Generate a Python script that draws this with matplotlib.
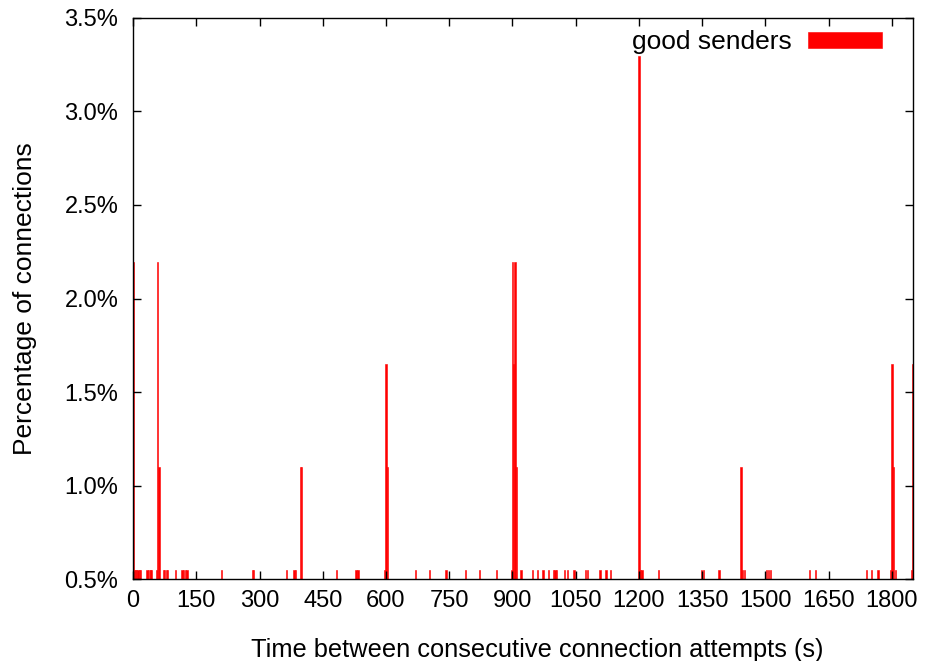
import matplotlib
matplotlib.use("Agg")
import matplotlib.pyplot as plt
import numpy as np

plt.rcParams['font.family'] = ['Liberation Sans', 'DejaVu Sans']

# seconds between attempts and how many connections fell in that second
times = [1, 3, 6, 9, 12, 15, 17, 33, 36, 41, 43, 56, 58, 62, 72, 75, 80, 82,
         101, 116, 120, 124, 128, 210, 283, 286, 364, 382, 386, 397, 400,
         482, 529, 534, 597, 600, 603, 670, 703, 742, 788, 822, 862,
         897, 900, 903, 906, 909, 920, 948, 959, 972, 985, 997, 1001, 1005,
         1023, 1031, 1046, 1073, 1078, 1108, 1122, 1133,
         1200, 1203, 1207, 1247, 1349, 1353, 1390, 1442, 1446, 1451,
         1503, 1507, 1512, 1605, 1619, 1739, 1751, 1767,
         1797, 1800, 1803, 1808, 1846, 1849]
counts = [4, 1, 1, 1, 1, 1, 1, 1, 1, 1, 1, 1, 4, 2, 1, 1, 1, 1,
          1, 1, 1, 1, 1, 1, 1, 1, 1, 1, 1, 2, 2,
          1, 1, 1, 1, 3, 2, 1, 1, 1, 1, 1, 1,
          1, 4, 3, 4, 2, 1, 1, 1, 1, 1, 1, 1, 1,
          1, 1, 1, 1, 1, 1, 1, 1,
          6, 1, 1, 1, 1, 1, 1, 2, 1, 1,
          1, 1, 1, 1, 1, 1, 1, 1,
          1, 3, 2, 1, 1, 3]
total = 182

pct = np.array(counts) / total * 100

fig = plt.figure(figsize=(9.27, 6.61), dpi=100)
ax = fig.add_axes([0.1435, 0.124, 0.8414, 0.8488])

ax.bar(times, pct, width=3.2, color='#ff0000', edgecolor='#ff0000',
       linewidth=0.4, label='good senders')

ax.set_xlim(0, 1850)
ax.set_ylim(0.5, 3.5)
ax.set_xticks(np.arange(0, 1801, 150))
ax.set_yticks(np.arange(0.5, 3.51, 0.5))
ax.set_yticklabels([f"{v:.1f}%" for v in np.arange(0.5, 3.51, 0.5)])

ax.tick_params(direction='in', length=6, width=1, top=True, right=True,
               labelsize=17)
ax.tick_params(axis='x', pad=8)
ax.tick_params(axis='y', pad=10.5)
for s in ax.spines.values():
    s.set_linewidth(1)

ax.set_xlabel("Time between consecutive connection attempts (s)", fontsize=18.3)
ax.set_ylabel("Percentage of connections", fontsize=19)
ax.xaxis.set_label_coords(0.518, -0.105)
ax.yaxis.set_label_coords(-0.123, 0.5)

ax.legend(loc='upper right', frameon=False, markerfirst=False, fontsize=19,
          handlelength=2.8, handleheight=0.55, handletextpad=0.6,
          borderaxespad=0, borderpad=0, bbox_to_anchor=(0.960, 0.978))

fig.savefig("out.png", dpi=100)
